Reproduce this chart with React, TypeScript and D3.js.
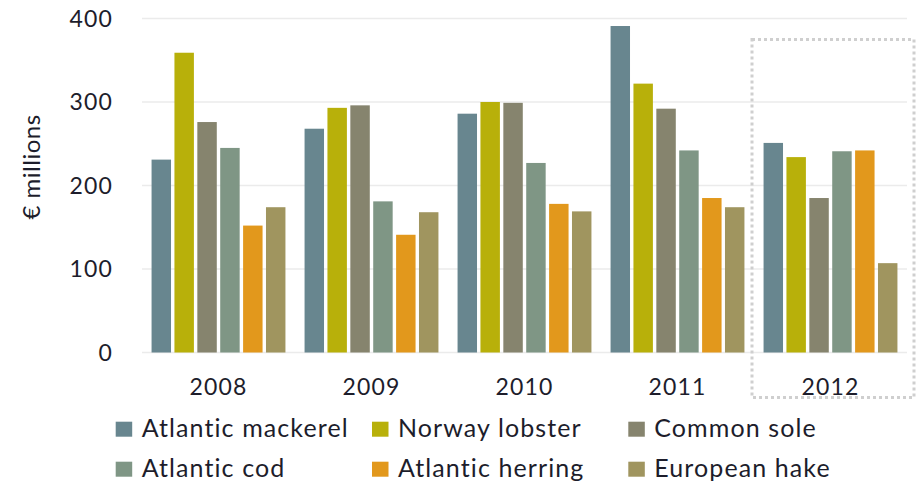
import React from "react";
import * as d3 from "d3";

const years = ["2008", "2009", "2010", "2011", "2012"];
const species = [
  "Atlantic mackerel",
  "Norway lobster",
  "Common sole",
  "Atlantic cod",
  "Atlantic herring",
  "European hake",
];
const colors = ["#68868f", "#b8b00a", "#86846e", "#7f9685", "#e2981c", "#a0955f"];

const atlanticMackerel = [231, 268, 286, 391, 251];
const norwayLobster = [359, 293, 300, 322, 234];
const commonSole = [276, 296, 299, 292, 185];
const atlanticCod = [245, 181, 227, 242, 241];
const atlanticHerring = [152, 141, 178, 185, 242];
const europeanHake = [174, 168, 169, 174, 107];

const seriesValues = [
  atlanticMackerel,
  norwayLobster,
  commonSole,
  atlanticCod,
  atlanticHerring,
  europeanHake,
];
const yTicks = [0, 100, 200, 300, 400];

const W = 918;
const H = 485;
const FONT = "Lato, 'Open Sans', sans-serif";
const TEXT = "#1d1d2b";

export default function App() {
  const x0 = d3
    .scaleBand<string>()
    .domain(years)
    .range([142, 907])
    .paddingInner(0.125)
    .paddingOuter(0.0625);
  const x1 = d3
    .scaleBand<string>()
    .domain(species)
    .range([0, x0.bandwidth()])
    .paddingInner(0.15)
    .paddingOuter(0);
  const y = d3.scaleLinear().domain([0, 400]).range([352.5, 18.5]);

  const legendCols = [115.7, 372, 628.3];
  const legendRows = [436.7, 476.7];

  return (
    <svg
      width={W}
      height={H}
      style={{ position: "absolute", left: 0, top: 0, background: "#fff" }}
      fontFamily={FONT}
    >
      {yTicks.map((t) => (
        <g key={t}>
          <line
            x1={142}
            x2={907}
            y1={y(t)}
            y2={y(t)}
            stroke="#ebebeb"
            strokeWidth={1.5}
          />
          <text
            x={113}
            y={y(t) + 8}
            textAnchor="end"
            fontSize={23}
            letterSpacing={1.2}
            fill={TEXT}
          >
            {t}
          </text>
        </g>
      ))}
      <text
        transform={`translate(40,167) rotate(-90)`}
        textAnchor="middle"
        fontSize={24}
        letterSpacing={0.5}
        fill={TEXT}
      >
        € millions
      </text>
      {years.map((yr, yi) => (
        <g key={yr} transform={`translate(${x0(yr)},0)`}>
          {species.map((sp, si) => {
            const v = seriesValues[si][yi];
            return (
              <rect
                key={sp}
                x={x1(sp)}
                y={y(v)}
                width={x1.bandwidth()}
                height={y(0) - y(v)}
                fill={colors[si]}
              />
            );
          })}
          <text
            x={x0.bandwidth() / 2}
            y={395}
            textAnchor="middle"
            fontSize={23}
            letterSpacing={1.2}
            fill={TEXT}
          >
            {yr}
          </text>
        </g>
      ))}
      <rect
        x={752}
        y={39.5}
        width={162}
        height={358}
        fill="none"
        stroke="#cfcfcf"
        strokeWidth={3}
        strokeDasharray="3 3"
      />
      {species.map((sp, i) => {
        const cx = legendCols[i % 3];
        const cy = legendRows[Math.floor(i / 3)];
        return (
          <g key={sp}>
            <rect x={cx} y={cy - 15} width={16.5} height={15} fill={colors[i]} />
            <text
              x={cx + 26}
              y={cy}
              fontSize={25}
              letterSpacing={1.1}
              fill={TEXT}
            >
              {sp}
            </text>
          </g>
        );
      })}
    </svg>
  );
}
